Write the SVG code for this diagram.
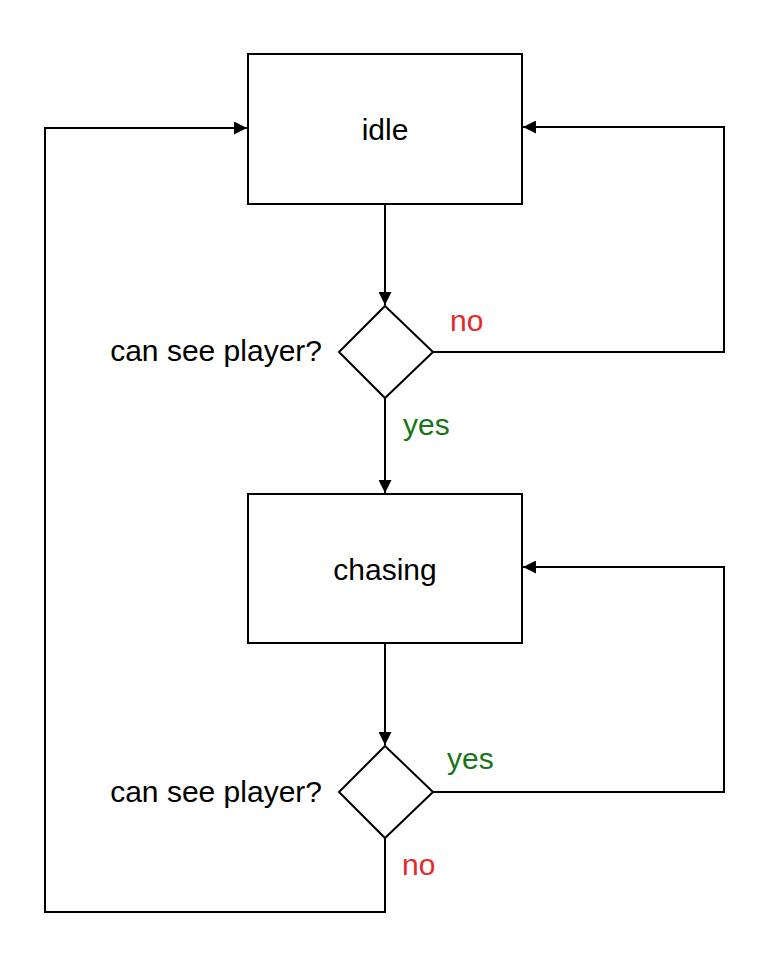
<svg xmlns="http://www.w3.org/2000/svg" width="774" height="962" viewBox="0 0 774 962">
<style>
.box{fill:#fff;stroke:#000;stroke-width:2}
.edge{fill:none;stroke:#000;stroke-width:2;stroke-linejoin:miter}
text{font-family:"Liberation Sans",Arial,sans-serif;font-size:30px;fill:#000}
.c{text-anchor:middle}
.e{text-anchor:end}
.no{fill:#e62a25}
.yes{fill:#177517}
</style>
<defs>
<marker id="arr" viewBox="0 0 10 10" refX="10" refY="5" markerWidth="6.5" markerHeight="6.5" orient="auto" markerUnits="strokeWidth">
<path d="M0,0 L10,5 L0,10 z" fill="#000"/>
</marker>
</defs>
<rect width="774" height="962" fill="#fff"/>
<g id="connectors">
<path class="edge" d="M385,204 V305" marker-end="url(#arr)"/>
<path class="edge" d="M385,398 V493" marker-end="url(#arr)"/>
<path class="edge" d="M433,352 H724 V127 H523" marker-end="url(#arr)"/>
<path class="edge" d="M385,643 V745" marker-end="url(#arr)"/>
<path class="edge" d="M433,792 H724 V567 H523" marker-end="url(#arr)"/>
<path class="edge" d="M385,838 V912 H45 V128 H247" marker-end="url(#arr)"/>
<text class="no" x="450" y="331">no</text>
<text class="yes" x="403" y="435">yes</text>
<text class="yes" x="447" y="769">yes</text>
<text class="no" x="402" y="875">no</text>
</g>
<g id="idle">
<rect class="box" x="248" y="54" width="274" height="150"/>
<text class="c" x="385" y="140">idle</text>
</g>
<g id="decision1">
<path class="box" d="M385,306 L433,352 L385,398 L339,352 z"/>
<text class="e" x="322" y="361">can see player?</text>
</g>
<g id="chasing">
<rect class="box" x="248" y="494" width="274" height="149"/>
<text class="c" x="385" y="580">chasing</text>
</g>
<g id="decision2">
<path class="box" d="M385,746 L433,792 L385,838 L339,792 z"/>
<text class="e" x="322" y="802">can see player?</text>
</g>
</svg>
